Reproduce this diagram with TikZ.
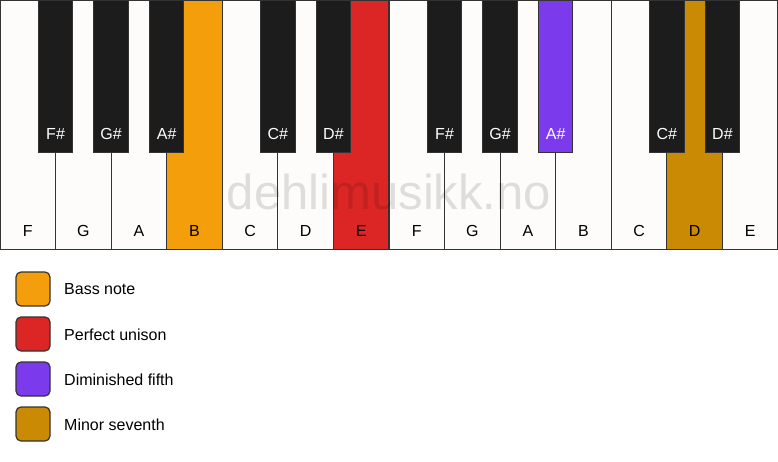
\documentclass[tikz,border=0pt]{standalone}
\usepackage{fontspec}
\setmainfont{Liberation Sans}
\definecolor{keywhite}{HTML}{FDFCFA}
\definecolor{keyblack}{HTML}{1C1C1C}
\definecolor{keyline}{HTML}{333333}
\definecolor{bassC}{HTML}{F59E0B}
\definecolor{unisonC}{HTML}{DC2626}
\definecolor{fifthC}{HTML}{7C3AED}
\definecolor{seventhC}{HTML}{CA8A04}
\begin{document}
\begin{tikzpicture}[x=1pt,y=-1pt,
  whitekey/.style={draw=keyline, line width=1.2pt, inner sep=0pt, outer sep=0pt,
    minimum width=55.5714pt, minimum height=249pt, anchor=north west},
  blackkey/.style={draw=keyline, line width=1pt, inner sep=0pt, outer sep=0pt,
    minimum width=34.5pt, minimum height=152.5pt, anchor=north},
  keylabel/.style={inner sep=0pt, font=\fontsize{16}{19}\selectfont, text=black},
  blacklabel/.style={inner sep=0pt, font=\fontsize{16}{19}\selectfont, text=white},
  legendbox/.style={draw=keyline, line width=1.2pt, rounded corners=5pt, inner sep=0pt,
    minimum width=34pt, minimum height=34pt},
  legendtext/.style={anchor=west, inner sep=0pt, font=\fontsize{16}{19}\selectfont},
  watermark/.style={inner sep=0pt, text=black, opacity=0.12, font=\fontsize{49}{54}\selectfont}]
\useasboundingbox[fill=white] (0,0) rectangle (778,461);
\def\kw{55.5714}
\foreach \n/\c [count=\i from 0] in {F/keywhite,G/keywhite,A/keywhite,B/bassC,C/keywhite,D/keywhite,E/unisonC,F/keywhite,G/keywhite,A/keywhite,B/keywhite,C/keywhite,D/seventhC,E/keywhite}{
  \node[whitekey, fill=\c] (w\i) at ({\i*\kw}, 0.6) {};
  \node[keylabel] (wl\i) at ({\i*\kw+\kw/2}, 230.5) {\n};
}
\foreach \b/\n/\c in {1/F\#/keyblack,2/G\#/keyblack,3/A\#/keyblack,5/C\#/keyblack,6/D\#/keyblack,8/F\#/keyblack,9/G\#/keyblack,10/A\#/fifthC,12/C\#/keyblack,13/D\#/keyblack}{
  \node[blackkey, fill=\c] (b\b) at ({\b*\kw}, 0) {};
  \node[blacklabel] (bl\b) at ({\b*\kw}, 133.5) {\n};
}
\node[watermark] (wm) at (389,192) {dehlimusikk.no};
\foreach \c/\t [count=\i] in {bassC/Bass note,unisonC/Perfect unison,fifthC/Diminished fifth,seventhC/Minor seventh}{
  \node[legendbox, fill=\c] (lg\i) at (33, {289+(\i-1)*45}) {};
  \node[legendtext] (lt\i) at (64, {289.5+(\i-1)*45}) {\t};
}
\end{tikzpicture}
\end{document}
